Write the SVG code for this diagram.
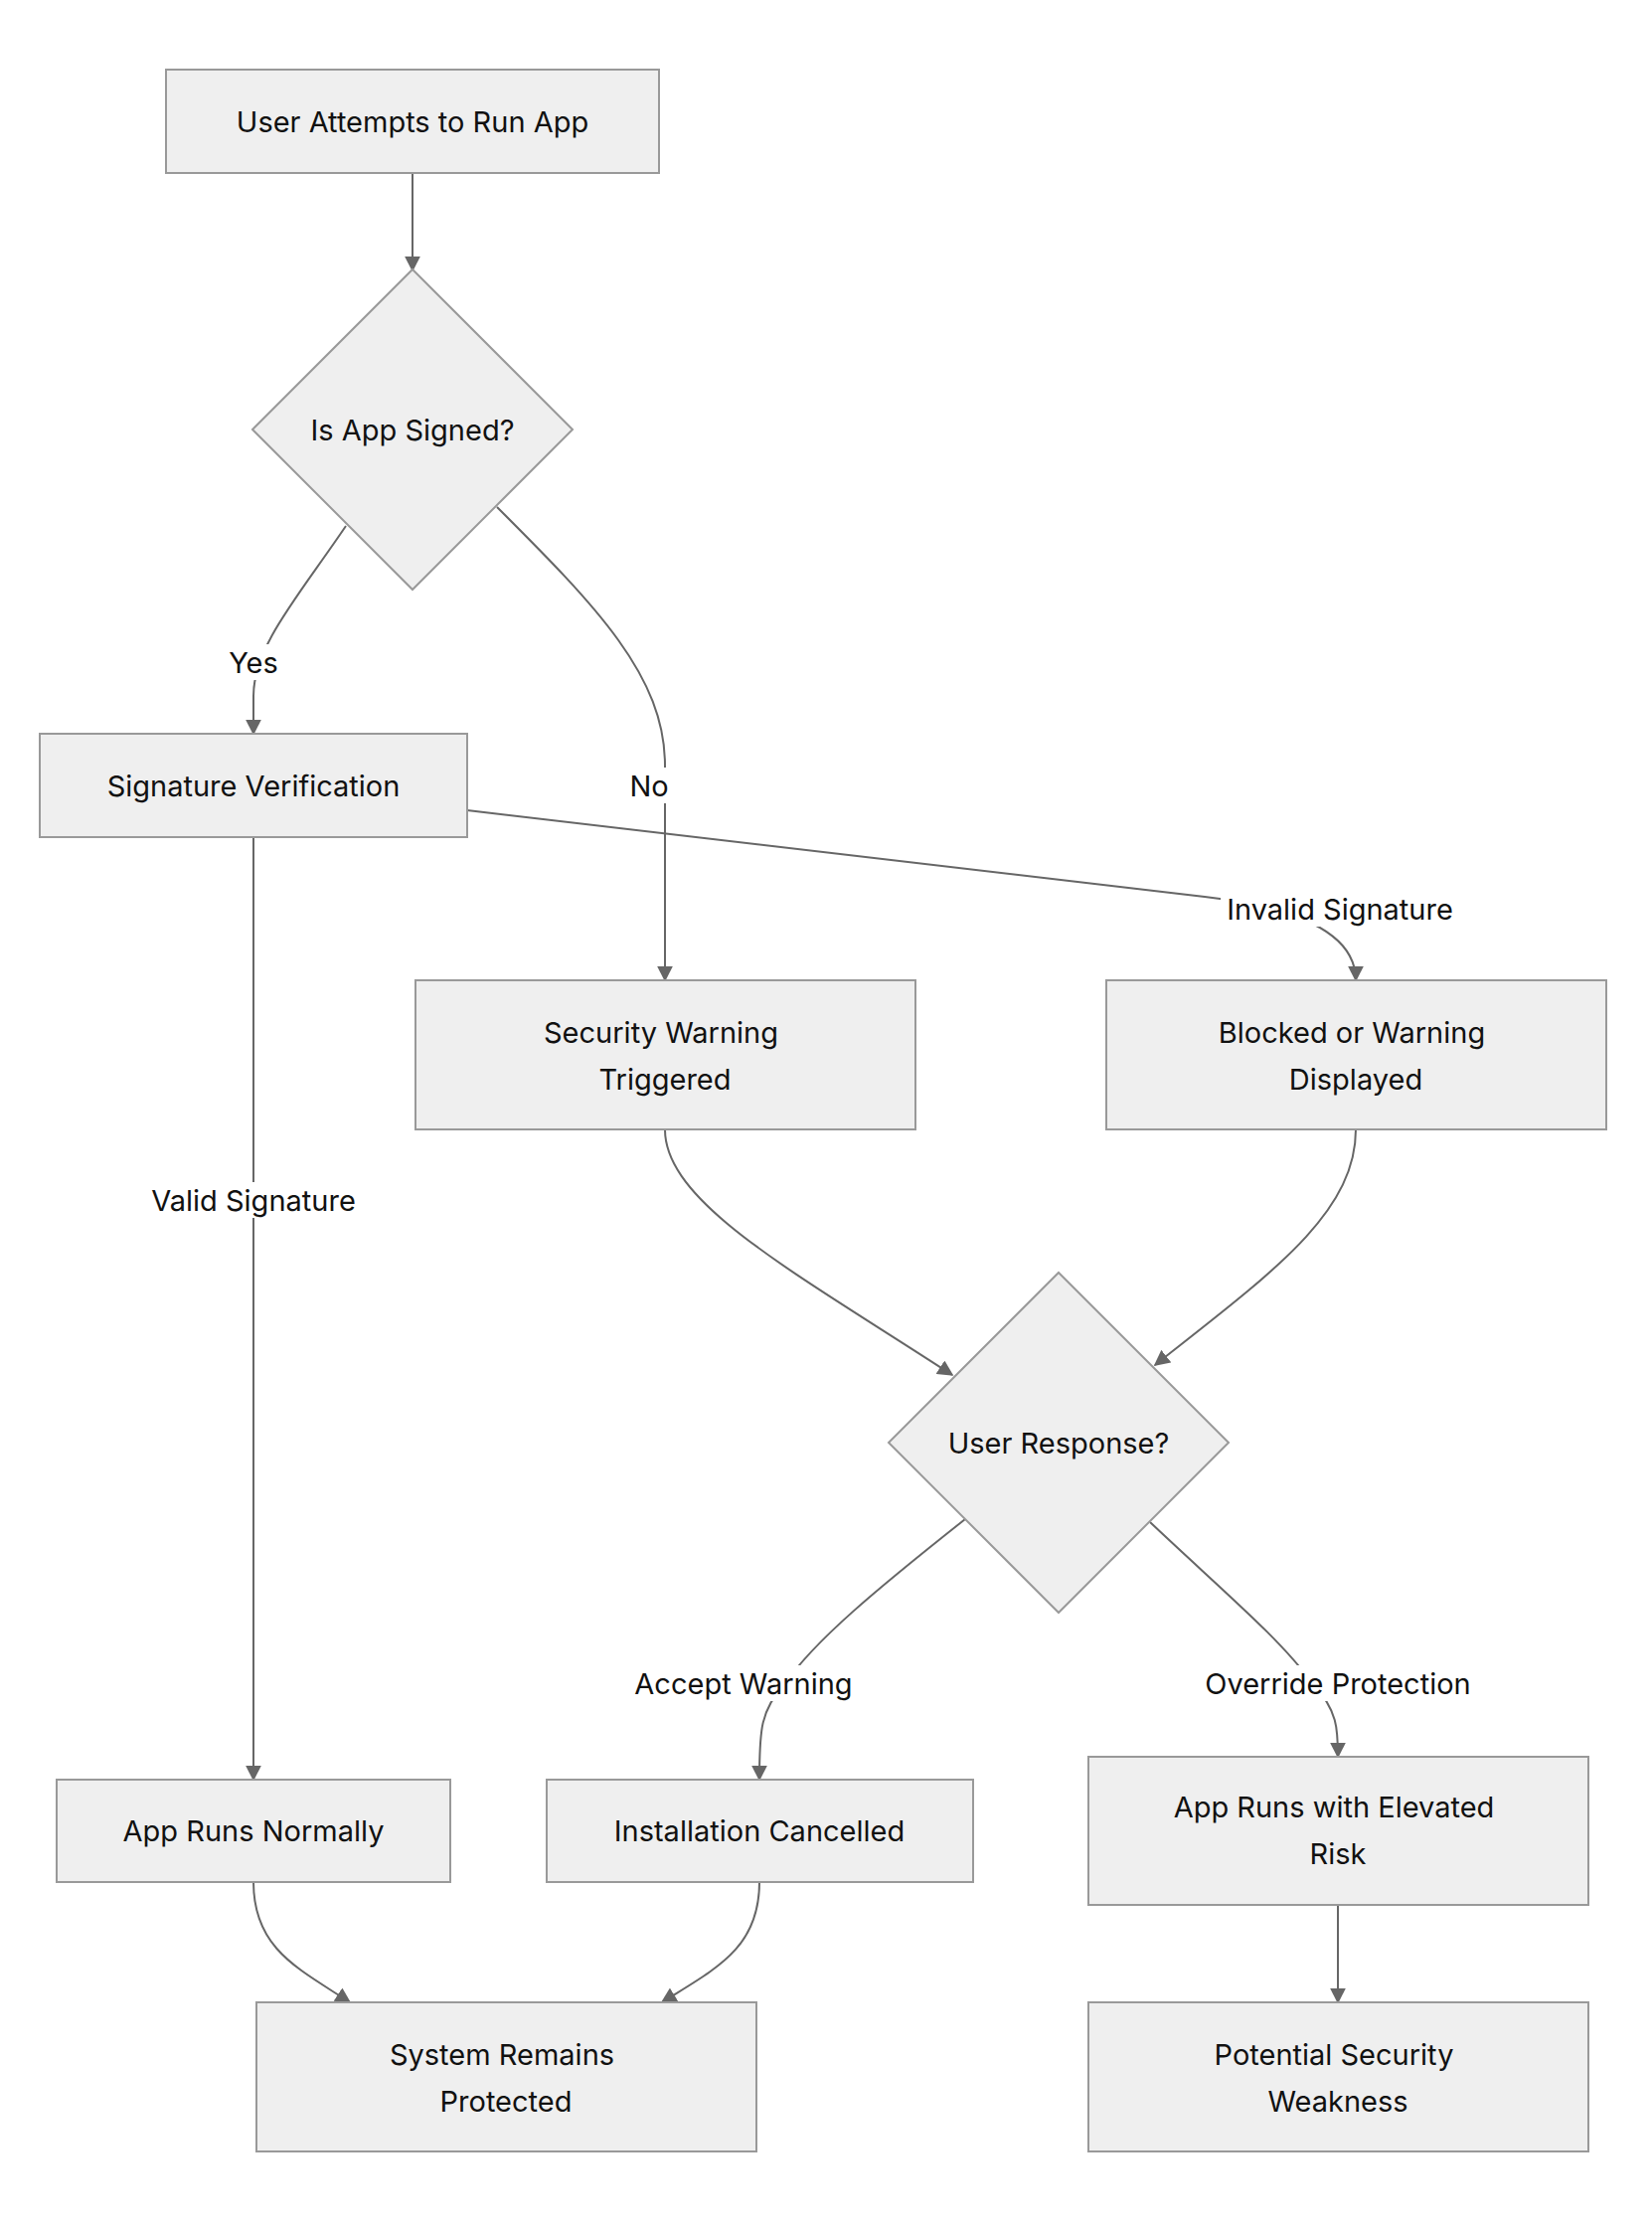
<svg xmlns="http://www.w3.org/2000/svg" width="1662" height="2244" viewBox="0 0 1662 2244">
<style>
.n{fill:#efefef;stroke:#999;stroke-width:2}
.t{font-family:Inter,"Noto Sans",sans-serif;font-size:29px;fill:#111;text-anchor:middle;dominant-baseline:central}
.e{fill:none;stroke:#666;stroke-width:2;marker-end:url(#a)}
.lb{fill:#fff}
</style>
<defs><marker id="a" viewBox="0 0 10 10" refX="9" refY="5" markerWidth="8" markerHeight="8" orient="auto"><path d="M0,0L10,5L0,10z" fill="#666"/></marker></defs>
<rect width="1662" height="2244" fill="#fff"/>
<g id="edges">
<path class="e" d="M415,174L415,272"/>
<path class="e" d="M348,529C300,600 255,650 255,700L255,738"/>
<path class="e" d="M500,510C600,610 669,680 669,770L669,986"/>
<path class="e" d="M470,815L1212,902Q1364,920 1364,986"/>
<path class="e" d="M255,842L255,1790"/>
<path class="e" d="M669,1136C669,1210 800,1280 958,1383"/>
<path class="e" d="M1364,1136C1364,1220 1280,1280 1162,1373"/>
<path class="e" d="M971,1528C880,1600 820,1650 790,1693C765,1720 764,1740 764,1790"/>
<path class="e" d="M1157,1531C1230,1600 1290,1650 1320,1693C1346,1720 1346,1740 1346,1767"/>
<path class="e" d="M255,1893C255,1960 300,1980 352,2014"/>
<path class="e" d="M764,1893C764,1960 720,1980 666,2014"/>
<path class="e" d="M1346,1916L1346,2014"/>
</g>
<g id="labels">
<rect class="lb" x="225" y="648" width="60" height="36"/><text class="t" x="255" y="666">Yes</text>
<rect class="lb" x="628" y="772" width="50" height="36"/><text class="t" x="653" y="790">No</text>
<rect class="lb" x="1228" y="896" width="240" height="36"/><text class="t" x="1348" y="914">Invalid Signature</text>
<rect class="lb" x="140" y="1189" width="230" height="36"/><text class="t" x="255" y="1207">Valid Signature</text>
<rect class="lb" x="628" y="1675" width="240" height="36"/><text class="t" x="748" y="1693">Accept Warning</text>
<rect class="lb" x="1196" y="1675" width="300" height="36"/><text class="t" x="1346" y="1693">Override Protection</text>
</g>
<g id="n1"><rect class="n" x="167" y="70" width="496" height="104"/><text class="t" x="415" y="122">User Attempts to Run App</text></g>
<g id="d1"><path class="n" d="M415,271L576,432L415,593L254,432z"/><text class="t" x="415" y="432">Is App Signed?</text></g>
<g id="n2"><rect class="n" x="40" y="738" width="430" height="104"/><text class="t" x="255" y="790">Signature Verification</text></g>
<g id="n3"><rect class="n" x="418" y="986" width="503" height="150"/><text class="t" x="665" y="1038">Security Warning</text><text class="t" x="669" y="1085">Triggered</text></g>
<g id="n4"><rect class="n" x="1113" y="986" width="503" height="150"/><text class="t" x="1360" y="1038">Blocked or Warning</text><text class="t" x="1364" y="1085">Displayed</text></g>
<g id="d2"><path class="n" d="M1065,1280L1236,1451L1065,1622L894,1451z"/><text class="t" x="1065" y="1451">User Response?</text></g>
<g id="n5"><rect class="n" x="57" y="1790" width="396" height="103"/><text class="t" x="255" y="1841">App Runs Normally</text></g>
<g id="n6"><rect class="n" x="550" y="1790" width="429" height="103"/><text class="t" x="764" y="1841">Installation Cancelled</text></g>
<g id="n7"><rect class="n" x="1095" y="1767" width="503" height="149"/><text class="t" x="1342" y="1817">App Runs with Elevated</text><text class="t" x="1346" y="1864">Risk</text></g>
<g id="n8"><rect class="n" x="258" y="2014" width="503" height="150"/><text class="t" x="505" y="2066">System Remains</text><text class="t" x="509" y="2113">Protected</text></g>
<g id="n9"><rect class="n" x="1095" y="2014" width="503" height="150"/><text class="t" x="1342" y="2066">Potential Security</text><text class="t" x="1346" y="2113">Weakness</text></g>
</svg>
